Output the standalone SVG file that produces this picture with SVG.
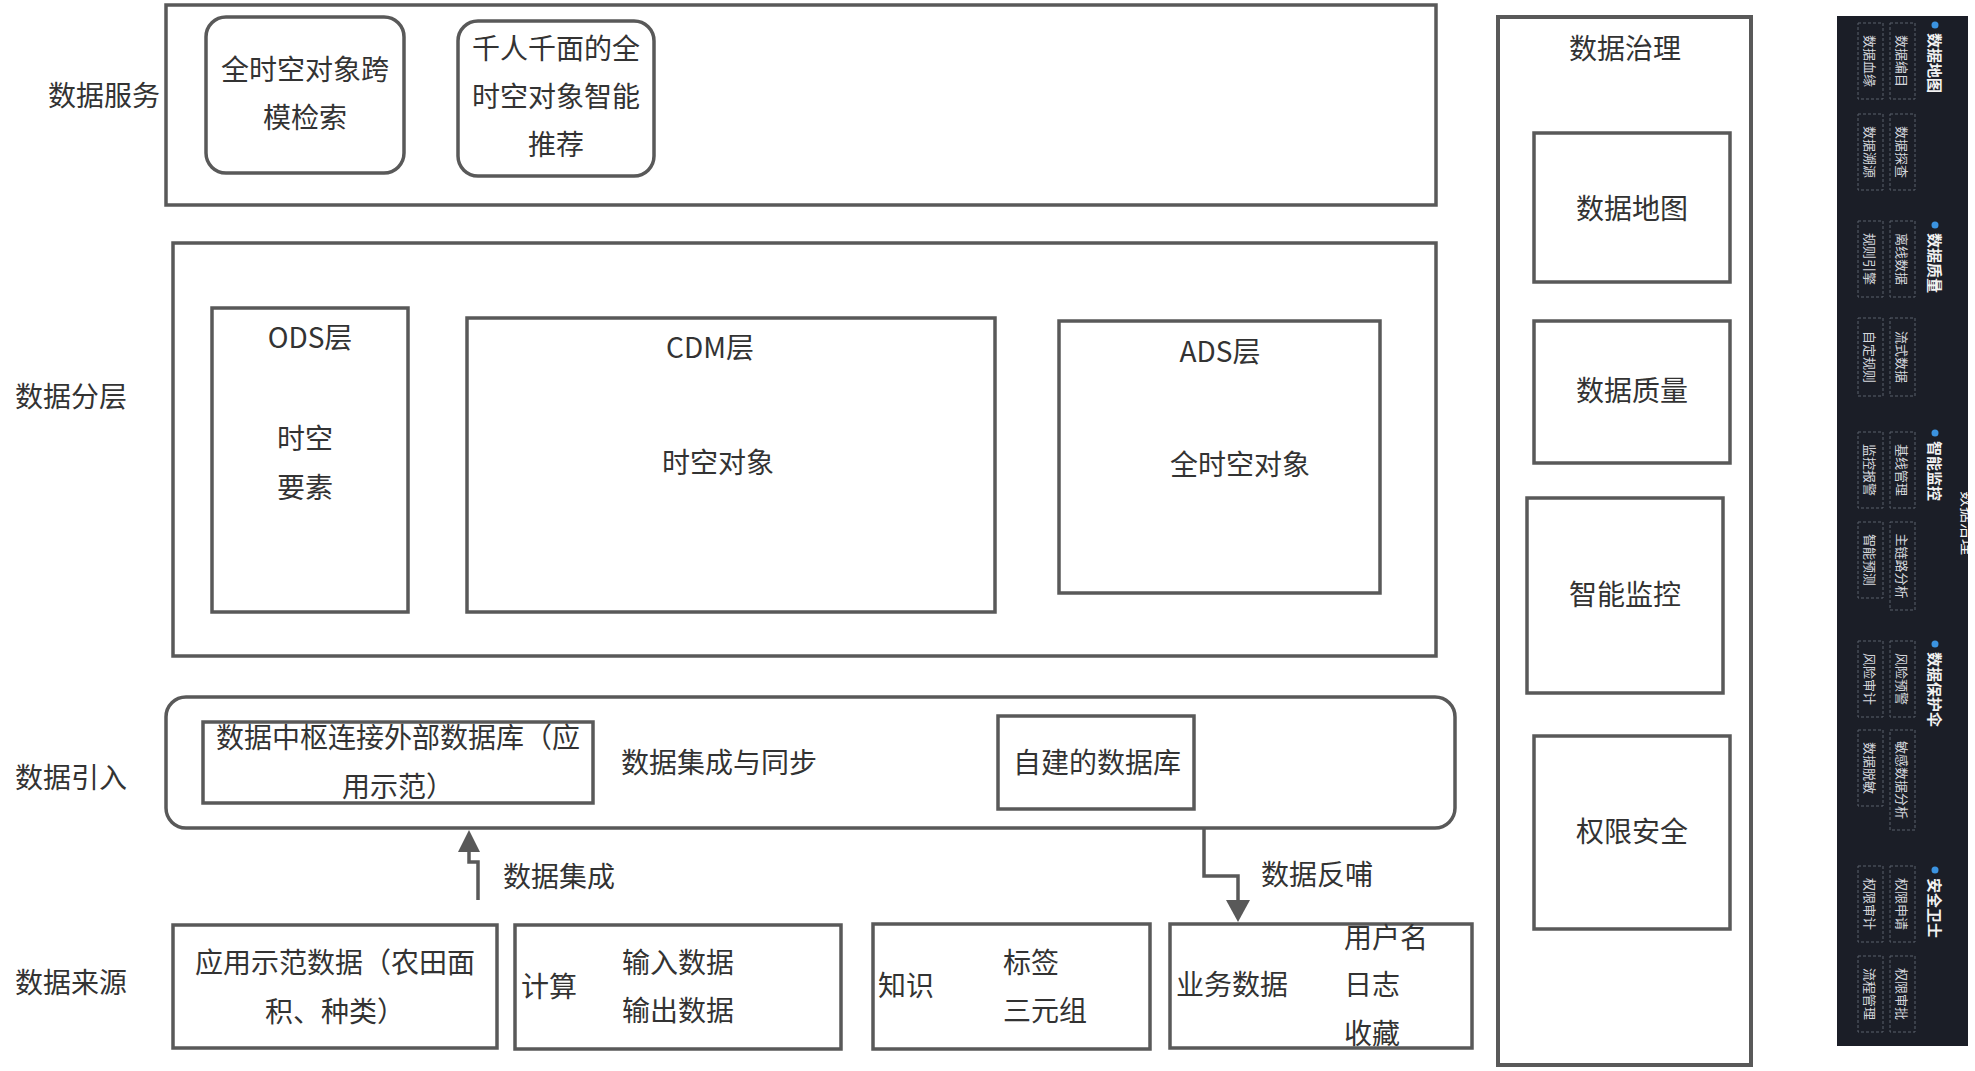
<svg xmlns="http://www.w3.org/2000/svg" width="1975" height="1071" viewBox="0 0 1975 1071">
<style>
.t{font-family:"Noto Sans CJK SC","Noto Sans",sans-serif;font-size:28px;fill:#333;dominant-baseline:central}
.m{text-anchor:middle}
.bx{fill:#fff;stroke:#595959;stroke-width:3.5}
.bo{fill:none;stroke:#595959;stroke-width:4}
.cn{fill:none;stroke:#595959;stroke-width:3.5}
.ah{fill:#595959}
.pb{fill:none;stroke:#5b606c;stroke-width:1;stroke-dasharray:3 2}
.pi{font-family:"Noto Sans CJK SC",sans-serif;font-size:13px;fill:#d4d6dc;text-anchor:middle;dominant-baseline:central}
.ph{font-family:"Noto Sans CJK SC",sans-serif;font-size:15px;font-weight:bold;fill:#f2f2f2;dominant-baseline:central}
.dot{fill:#3b93e0}
</style>
<defs>
<clipPath id="pc"><rect x="1837" y="16" width="131" height="1030"/></clipPath>
</defs>
<rect width="1975" height="1071" fill="#fff"/>

<g id="labels">
<text class="t" x="48" y="94">数据服务</text>
<text class="t" x="15" y="395">数据分层</text>
<text class="t" x="15" y="776">数据引入</text>
<text class="t" x="15" y="981">数据来源</text>
</g>

<g id="service">
<rect class="bx" x="166" y="5" width="1270" height="200"/>
</g>
<g id="svc-search">
<rect class="bx" x="206" y="17" width="198" height="156" rx="20"/>
<text class="t m" x="305" y="68">全时空对象跨</text>
<text class="t m" x="305" y="116">模检索</text>
</g>
<g id="svc-recommend">
<rect class="bx" x="458" y="21" width="196" height="155" rx="20"/>
<text class="t m" x="556" y="47">千人千面的全</text>
<text class="t m" x="556" y="95">时空对象智能</text>
<text class="t m" x="556" y="143">推荐</text>
</g>

<g id="layer">
<rect class="bx" x="173" y="243" width="1263" height="413"/>
</g>
<g id="ods">
<rect class="bx" x="212" y="308" width="196" height="304"/>
<text class="t m" x="310" y="336">ODS层</text>
<text class="t m" x="305" y="437">时空</text>
<text class="t m" x="305" y="486">要素</text>
</g>
<g id="cdm">
<rect class="bx" x="467" y="318" width="528" height="294"/>
<text class="t m" x="710" y="346">CDM层</text>
<text class="t m" x="718" y="461">时空对象</text>
</g>
<g id="ads">
<rect class="bx" x="1059" y="321" width="321" height="272"/>
<text class="t m" x="1220" y="350">ADS层</text>
<text class="t m" x="1240" y="463">全时空对象</text>
</g>

<g id="ingest">
<rect class="bx" x="166" y="697" width="1289" height="131" rx="20"/>
<text class="t" x="621" y="761">数据集成与同步</text>
</g>
<g id="hub">
<rect class="bx" x="203" y="722" width="390" height="81"/>
<text class="t m" x="398" y="736">数据中枢连接外部数据库（应</text>
<text class="t m" x="398" y="785">用示范）</text>
</g>
<g id="selfdb">
<rect class="bx" x="998" y="716" width="196" height="93"/>
<text class="t m" x="1097" y="761">自建的数据库</text>
</g>

<g id="connectors">
<path class="cn" d="M478 900 V862 H469 V848"/>
<polygon class="ah" points="469,830 458,852 480,852"/>
<text class="t" x="503" y="875">数据集成</text>
<path class="cn" d="M1204 828 V876 H1238 V902"/>
<polygon class="ah" points="1238,922 1226,900 1250,900"/>
<text class="t" x="1261" y="873">数据反哺</text>
</g>

<g id="src-demo">
<rect class="bx" x="173" y="925" width="324" height="123"/>
<text class="t m" x="335" y="961">应用示范数据（农田面</text>
<text class="t m" x="335" y="1010">积、种类）</text>
</g>
<g id="src-compute">
<rect class="bx" x="515" y="925" width="326" height="124"/>
<text class="t" x="521" y="985">计算</text>
<text class="t" x="622" y="961">输入数据</text>
<text class="t" x="622" y="1009">输出数据</text>
</g>
<g id="src-knowledge">
<rect class="bx" x="873" y="924" width="277" height="125"/>
<text class="t" x="878" y="984">知识</text>
<text class="t" x="1003" y="961">标签</text>
<text class="t" x="1003" y="1009">三元组</text>
</g>
<g id="src-business">
<rect class="bx" x="1170" y="924" width="302" height="124"/>
<text class="t" x="1176" y="983">业务数据</text>
<text class="t" x="1344" y="936">用户名</text>
<text class="t" x="1344" y="983">日志</text>
<text class="t" x="1344" y="1032">收藏</text>
</g>

<g id="governance">
<rect class="bo" x="1498" y="17" width="253" height="1048"/>
<text class="t m" x="1625" y="47">数据治理</text>
</g>
<g id="gov-map">
<rect class="bx" x="1534" y="133" width="196" height="149"/>
<text class="t m" x="1632" y="207">数据地图</text>
</g>
<g id="gov-quality">
<rect class="bx" x="1534" y="321" width="196" height="142"/>
<text class="t m" x="1632" y="389">数据质量</text>
</g>
<g id="gov-monitor">
<rect class="bx" x="1527" y="498" width="196" height="195"/>
<text class="t m" x="1625" y="593">智能监控</text>
</g>
<g id="gov-security">
<rect class="bx" x="1534" y="736" width="196" height="193"/>
<text class="t m" x="1632" y="830">权限安全</text>
</g>

<g id="panel">
<rect x="1837" y="16" width="131" height="1030" fill="#1b1e27"/>
<g clip-path="url(#pc)">
<text class="ph" style="font-size:16px;font-weight:normal;text-anchor:middle" transform="translate(1969,523) rotate(90)">数据治理</text>
</g>
<circle class="dot" cx="1935" cy="25" r="3.5"/>
<text class="ph" transform="translate(1935,33) rotate(90)">数据地图</text>
<rect class="pb" x="1890" y="23" width="25" height="76"/><text class="pi" transform="translate(1902.5,61) rotate(90)">数据编目</text>
<rect class="pb" x="1890" y="114" width="25" height="76"/><text class="pi" transform="translate(1902.5,152) rotate(90)">数据探查</text>
<rect class="pb" x="1858" y="23" width="25" height="76"/><text class="pi" transform="translate(1870.5,61) rotate(90)">数据血缘</text>
<rect class="pb" x="1858" y="114" width="25" height="76"/><text class="pi" transform="translate(1870.5,152) rotate(90)">数据溯源</text>
<circle class="dot" cx="1935" cy="225" r="3.5"/>
<text class="ph" transform="translate(1935,233) rotate(90)">数据质量</text>
<rect class="pb" x="1890" y="221" width="25" height="76"/><text class="pi" transform="translate(1902.5,259) rotate(90)">离线数据</text>
<rect class="pb" x="1890" y="318" width="25" height="78"/><text class="pi" transform="translate(1902.5,357) rotate(90)">流式数据</text>
<rect class="pb" x="1858" y="221" width="25" height="76"/><text class="pi" transform="translate(1870.5,259) rotate(90)">规则引擎</text>
<rect class="pb" x="1858" y="318" width="25" height="78"/><text class="pi" transform="translate(1870.5,357) rotate(90)">自定规则</text>
<circle class="dot" cx="1935" cy="433" r="3.5"/>
<text class="ph" transform="translate(1935,441) rotate(90)">智能监控</text>
<rect class="pb" x="1890" y="432" width="25" height="76"/><text class="pi" transform="translate(1902.5,470) rotate(90)">基线管理</text>
<rect class="pb" x="1890" y="522" width="25" height="88"/><text class="pi" transform="translate(1902.5,566) rotate(90)">主链路分析</text>
<rect class="pb" x="1858" y="432" width="25" height="76"/><text class="pi" transform="translate(1870.5,470) rotate(90)">监控报警</text>
<rect class="pb" x="1858" y="522" width="25" height="76"/><text class="pi" transform="translate(1870.5,560) rotate(90)">智能预测</text>
<circle class="dot" cx="1935" cy="644" r="3.5"/>
<text class="ph" transform="translate(1935,652) rotate(90)">数据保护伞</text>
<rect class="pb" x="1890" y="641" width="25" height="76"/><text class="pi" transform="translate(1902.5,679) rotate(90)">风险预警</text>
<rect class="pb" x="1890" y="730" width="25" height="100"/><text class="pi" transform="translate(1902.5,780) rotate(90)">敏感数据分析</text>
<rect class="pb" x="1858" y="641" width="25" height="76"/><text class="pi" transform="translate(1870.5,679) rotate(90)">风险审计</text>
<rect class="pb" x="1858" y="730" width="25" height="76"/><text class="pi" transform="translate(1870.5,768) rotate(90)">数据脱敏</text>
<circle class="dot" cx="1935" cy="870" r="3.5"/>
<text class="ph" transform="translate(1935,878) rotate(90)">安全卫士</text>
<rect class="pb" x="1890" y="866" width="25" height="76"/><text class="pi" transform="translate(1902.5,904) rotate(90)">权限申请</text>
<rect class="pb" x="1890" y="956" width="25" height="76"/><text class="pi" transform="translate(1902.5,994) rotate(90)">权限审批</text>
<rect class="pb" x="1858" y="866" width="25" height="76"/><text class="pi" transform="translate(1870.5,904) rotate(90)">权限审计</text>
<rect class="pb" x="1858" y="956" width="25" height="76"/><text class="pi" transform="translate(1870.5,994) rotate(90)">流程管理</text>
</g>
</svg>
